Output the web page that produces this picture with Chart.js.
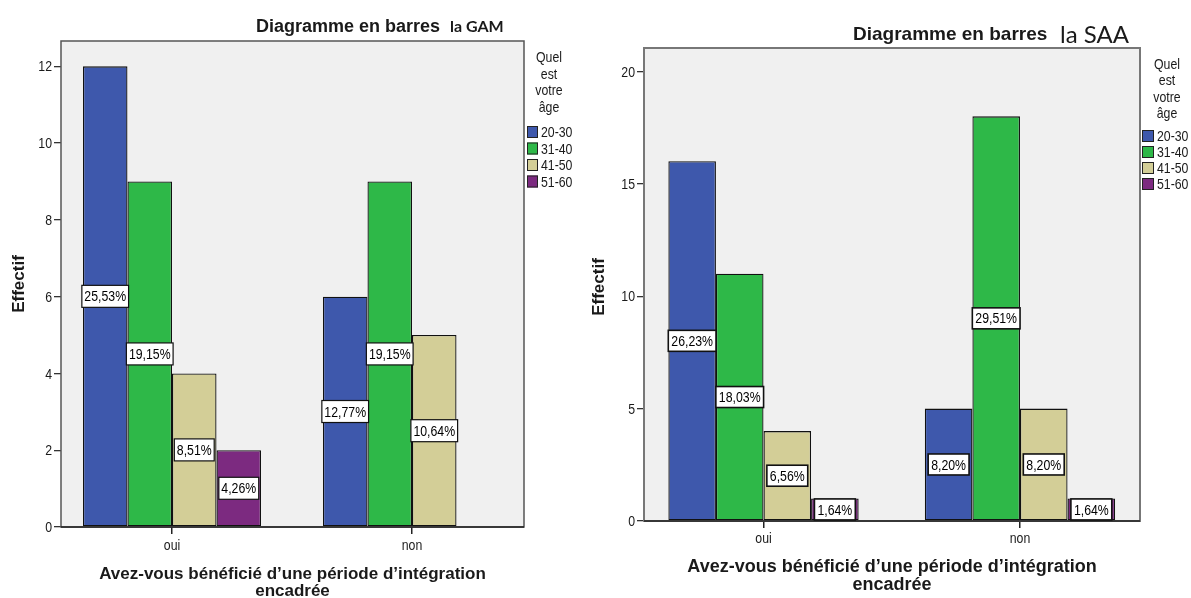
<!DOCTYPE html>
<html>
<head>
<meta charset="utf-8">
<script src="https://cdn.jsdelivr.net/npm/chart.js@4/dist/chart.umd.min.js"></script>
<style>
  html, body { margin: 0; padding: 0; background: #fff; width: 1191px; height: 598px; overflow: hidden; }
  .panel { position: absolute; top: 0; height: 598px; }
  #panelGam { left: 0; width: 590px; }
  #panelSaa { left: 585px; width: 606px; }
  canvas { display: block; }
</style>
</head>
<body>
<div class="panel" id="panelGam"><canvas id="chartGam" width="590" height="598"></canvas></div>
<div class="panel" id="panelSaa"><canvas id="chartSaa" width="606" height="598"></canvas></div>
<script>
// Categories (x axis) and age groups (series)
const categories = ['oui', 'non'];
const ageGroups = ['20-30', '31-40', '41-50', '51-60'];

// GAM counts per age group, for [oui, non]
const gam2030 = [12, 6];
const gam3140 = [9, 9];
const gam4150 = [4, 5];
const gam5160 = [2, 0];

// SAA counts per age group, for [oui, non]
const saa2030 = [16, 5];
const saa3140 = [11, 18];
const saa4150 = [4, 5];
const saa5160 = [1, 1];

// Y axis tick values
const gamTicks = [0, 2, 4, 6, 8, 10, 12];
const saaTicks = [0, 5, 10, 15, 20];

const seriesColors = ['#3E58AC', '#2EB848', '#D3CE97', '#7C2A80'];
const SANS = '"Liberation Sans", Arial, sans-serif';
const TEXT = '#1a1a1a';
const SQUEEZE = 0.82;   // horizontal compression for the narrow label face

// Draws text horizontally condensed, anchored at (x, y)
function narrowText(ctx, txt, x, y, align) {
  ctx.save();
  ctx.translate(x, y);
  ctx.scale(SQUEEZE, 1);
  ctx.textAlign = align;
  ctx.fillText(txt, 0, 0);
  ctx.restore();
}

function buildDatasets(series) {
  return series.map((values, i) => ({
    label: ageGroups[i],
    data: values.map((v, j) => ({ x: j, y: v })),
    backgroundColor: seriesColors[i],
    borderColor: '#111',
    borderWidth: 1.3,
    borderSkipped: false,
    categoryPercentage: 0.742,
    barPercentage: 1
  }));
}

// Plot background, frame, tick labels, titles, legend and percentage labels
const spssDecor = {
  id: 'spssDecor',
  beforeDatasetsDraw(chart) {
    const { ctx, chartArea: a } = chart;
    ctx.save();
    ctx.fillStyle = '#F0F0F0';
    ctx.fillRect(a.left, a.top, a.right - a.left, a.bottom - a.top);
    ctx.restore();
  },
  afterDatasetsDraw(chart) {
    const { ctx, chartArea: a } = chart;
    const o = chart.options.plugins.spssDecor;
    ctx.save();
    // frame
    ctx.strokeStyle = o.frameColor;
    ctx.lineWidth = o.frameWidth;
    ctx.strokeRect(a.left, a.top, a.right - a.left, a.bottom - a.top);
    // baseline
    ctx.strokeStyle = '#222';
    ctx.lineWidth = 1.6;
    ctx.beginPath();
    ctx.moveTo(a.left, a.bottom);
    ctx.lineTo(a.right, a.bottom);
    ctx.stroke();

    // percentage labels in the middle of each bar
    let total = 0;
    chart.data.datasets.forEach(ds => ds.data.forEach(p => { total += p.y; }));
    ctx.font = '15px ' + SANS;
    ctx.textBaseline = 'middle';
    chart.data.datasets.forEach((ds, di) => {
      const meta = chart.getDatasetMeta(di);
      meta.data.forEach((bar, i) => {
        const v = ds.data[i].y;
        if (!v) return;
        const txt = (v / total * 100).toFixed(2).replace('.', ',') + '%';
        const cy = (bar.y + bar.base) / 2;
        const w = ctx.measureText(txt).width * SQUEEZE + o.labelPad;
        const h = o.labelHeight;
        ctx.fillStyle = '#fff';
        ctx.fillRect(bar.x - w / 2, cy - h / 2, w, h);
        ctx.strokeStyle = '#111';
        ctx.lineWidth = o.labelBorder;
        ctx.strokeRect(bar.x - w / 2, cy - h / 2, w, h);
        ctx.fillStyle = '#000';
        narrowText(ctx, txt, bar.x, cy + 1, 'center');
      });
    });
    ctx.restore();
  },
  afterDraw(chart) {
    const { ctx, chartArea: a } = chart;
    const o = chart.options.plugins.spssDecor;
    const xs = chart.scales.x, ys = chart.scales.y;
    ctx.save();
    ctx.fillStyle = TEXT;

    // tick labels, placed by the scales
    ctx.font = '15px ' + SANS;
    ctx.textBaseline = 'middle';
    ys.ticks.forEach(t => {
      narrowText(ctx, String(t.value), a.left - 9, ys.getPixelForValue(t.value) + 1, 'right');
    });
    xs.ticks.forEach(t => {
      narrowText(ctx, categories[t.value], xs.getPixelForValue(t.value), o.xTickY, 'center');
    });

    // chart title
    ctx.textBaseline = 'alphabetic';
    ctx.textAlign = 'left';
    ctx.font = 'bold ' + o.titleSize + 'px ' + SANS;
    ctx.fillText('Diagramme en barres', o.titleX, o.titleY);
    ctx.font = o.subFont;
    ctx.fillText(o.subtitle, o.subX, o.subY);

    // y axis title
    ctx.save();
    ctx.translate(o.yTitleX, o.yTitleY);
    ctx.rotate(-Math.PI / 2);
    ctx.textAlign = 'center';
    ctx.textBaseline = 'middle';
    ctx.font = 'bold 17px ' + SANS;
    ctx.fillText('Effectif', 0, 0);
    ctx.restore();

    // x axis title
    ctx.textAlign = 'center';
    ctx.textBaseline = 'middle';
    ctx.font = 'bold ' + o.xTitleSize + 'px ' + SANS;
    ctx.fillText('Avez-vous bénéficié d\u2019une période d\u2019intégration', o.xTitleX, o.xTitleY1);
    ctx.fillText('encadrée', o.xTitleX, o.xTitleY2);

    // legend
    ctx.font = '15px ' + SANS;
    ['Quel', 'est', 'votre', 'âge'].forEach((t, i) => {
      narrowText(ctx, t, o.legTitleX, o.legTitleY + i * o.legTitleGap, 'center');
    });
    chart.data.datasets.forEach((ds, i) => {
      const cy = o.legItemY + i * o.legItemGap;
      ctx.fillStyle = ds.backgroundColor;
      ctx.fillRect(o.legBoxX, cy - 6, o.legBoxW, 12);
      ctx.strokeStyle = '#222';
      ctx.lineWidth = 1;
      ctx.strokeRect(o.legBoxX + 0.5, cy - 5.5, o.legBoxW - 1, 11);
      ctx.fillStyle = TEXT;
      narrowText(ctx, ds.label, o.legTextX, cy + 1, 'left');
    });
    ctx.restore();
  }
};

function makeChart(canvasId, series, yTicks, cfg) {
  return new Chart(document.getElementById(canvasId), {
    type: 'bar',
    data: { datasets: buildDatasets(series) },
    plugins: [spssDecor],
    options: {
      responsive: false,
      animation: false,
      devicePixelRatio: 1,
      layout: { padding: { left: 0, right: cfg.padRight, top: cfg.padTop, bottom: 0 } },
      plugins: {
        legend: { display: false },
        title: { display: false },
        tooltip: { enabled: false },
        spssDecor: cfg.decor
      },
      scales: {
        x: {
          type: 'linear',
          min: cfg.xMin,
          max: cfg.xMax,
          offset: false,
          afterBuildTicks: s => { s.ticks = categories.map((c, i) => ({ value: i })); },
          afterFit: s => { s.height = cfg.xHeight; },
          ticks: { display: false },
          grid: { display: true, offset: false, drawOnChartArea: false, drawTicks: true, tickLength: 7, color: '#222', lineWidth: 1.5 },
          border: { display: false }
        },
        y: {
          type: 'linear',
          min: 0,
          max: cfg.yMax,
          afterBuildTicks: s => { s.ticks = yTicks.map(v => ({ value: v })); },
          afterFit: s => { s.width = cfg.yWidth; },
          ticks: { display: false },
          grid: { display: true, drawOnChartArea: false, drawTicks: true, tickLength: 7, color: '#333', lineWidth: 1.3 },
          border: { display: false }
        }
      }
    }
  });
}

makeChart('chartGam', [gam2030, gam3140, gam4150, gam5160], gamTicks, {
  padRight: 66, padTop: 41, xHeight: 71, yWidth: 61,
  xMin: -0.4625, xMax: 1.4667, yMax: 12.66,
  decor: {
    frameColor: '#555', frameWidth: 1.5, labelHeight: 22, labelBorder: 1.2, labelPad: 5,
    xTickY: 546,
    titleSize: 18, titleX: 256, titleY: 32,
    subtitle: 'la GAM', subFont: 'bold 16px Lato, sans-serif', subX: 450, subY: 32,
    yTitleX: 19, yTitleY: 284,
    xTitleSize: 17, xTitleX: 292.5, xTitleY1: 574, xTitleY2: 591,
    legTitleX: 549, legTitleY: 58, legTitleGap: 16.6,
    legBoxX: 527, legBoxW: 11, legItemY: 132, legItemGap: 16.5, legTextX: 541
  }
});

makeChart('chartSaa', [saa2030, saa3140, saa4150, saa5160], saaTicks, {
  padRight: 51, padTop: 48, xHeight: 77, yWidth: 59,
  xMin: -0.466, xMax: 1.468, yMax: 21.04,
  decor: {
    frameColor: '#777', frameWidth: 2, labelHeight: 21, labelBorder: 1.6, labelPad: 6,
    xTickY: 539,
    titleSize: 19, titleX: 268, titleY: 40,
    subtitle: 'la SAA', subFont: '24px Lato, sans-serif', subX: 475, subY: 43,
    yTitleX: 14, yTitleY: 287,
    xTitleSize: 18, xTitleX: 307, xTitleY1: 567, xTitleY2: 585,
    legTitleX: 582, legTitleY: 65, legTitleGap: 16.2,
    legBoxX: 557, legBoxW: 12, legItemY: 136, legItemGap: 16, legTextX: 572
  }
});
</script>
</body>
</html>
